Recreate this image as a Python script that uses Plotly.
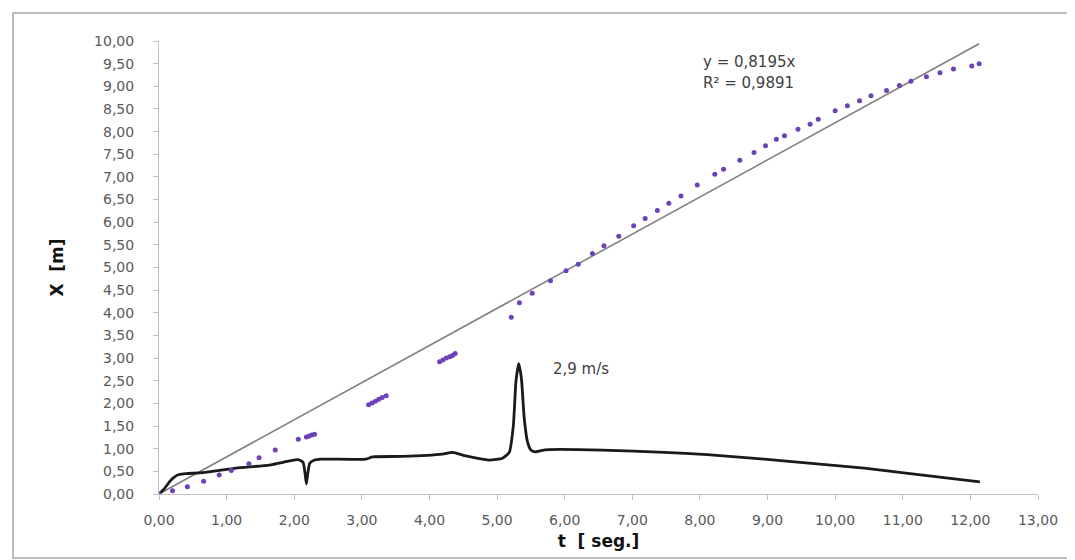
import plotly.graph_objects as go

# ---- data ----
pos_t = [0.00, 0.20, 0.42, 0.66, 0.89, 1.07, 1.33, 1.48, 1.72, 2.06,
         2.18, 2.22, 2.26, 2.30,
         3.10, 3.15, 3.20, 3.25, 3.30, 3.36,
         4.15, 4.20, 4.25, 4.30, 4.34, 4.38,
         5.21, 5.33, 5.52, 5.79, 6.02, 6.20, 6.41, 6.58, 6.80, 7.02,
         7.19, 7.37, 7.54, 7.72, 7.96, 8.22, 8.35, 8.59, 8.80, 8.97,
         9.13, 9.25, 9.45, 9.63, 9.75, 10.00, 10.18, 10.36, 10.53, 10.76,
         10.95, 11.12, 11.35, 11.55, 11.75, 12.02, 12.13]
pos_x = [0.00, 0.07, 0.16, 0.28, 0.42, 0.52, 0.67, 0.80, 0.97, 1.21,
         1.26, 1.28, 1.30, 1.32,
         1.97, 2.01, 2.05, 2.09, 2.13, 2.17,
         2.92, 2.96, 3.00, 3.03, 3.06, 3.10,
         3.90, 4.22, 4.43, 4.71, 4.93, 5.07, 5.31, 5.48, 5.69, 5.92,
         6.08, 6.26, 6.42, 6.58, 6.82, 7.06, 7.17, 7.37, 7.54, 7.69,
         7.83, 7.91, 8.05, 8.16, 8.27, 8.46, 8.57, 8.68, 8.79, 8.91,
         9.02, 9.11, 9.21, 9.30, 9.38, 9.45, 9.50]

vel_t = [0.00, 0.08, 0.16, 0.23, 0.30, 0.40, 0.65, 1.14, 1.63, 1.93,
         2.06, 2.13, 2.16, 2.18, 2.20, 2.23, 2.30, 2.40, 3.06, 3.16,
         3.60, 4.19, 4.34, 4.54, 4.88, 5.08, 5.18, 5.24, 5.28, 5.32,
         5.36, 5.40, 5.45, 5.50, 5.56, 5.65, 5.77, 6.56, 7.47, 8.11,
         8.95, 9.69, 10.43, 11.17, 12.14]
vel_v = [0.00, 0.12, 0.28, 0.38, 0.43, 0.45, 0.47, 0.57, 0.64, 0.73,
         0.76, 0.70, 0.45, 0.22, 0.45, 0.68, 0.75, 0.77, 0.77, 0.82,
         0.83, 0.88, 0.92, 0.84, 0.75, 0.79, 0.92, 1.50, 2.50, 2.88,
         2.55, 1.70, 1.15, 0.97, 0.93, 0.96, 0.98, 0.97, 0.92, 0.87,
         0.77, 0.67, 0.57, 0.44, 0.27]

trend_slope = 0.8195
trend_r2 = 0.9891
trend_t = [0.00, 12.13]
trend_x = [trend_slope * v for v in trend_t]

x_ticks = [float(i) for i in range(0, 14)]
y_ticks = [i * 0.5 for i in range(0, 21)]

fig = go.Figure()

fig.add_trace(go.Scatter(
    x=trend_t, y=trend_x, mode="lines",
    line=dict(color="#808080", width=1.6), hoverinfo="skip"))

fig.add_trace(go.Scatter(
    x=vel_t, y=vel_v, mode="lines",
    line=dict(color="#1a1a1a", width=2.8, shape="spline", smoothing=0.5)))

fig.add_trace(go.Scatter(
    x=pos_t, y=pos_x, mode="markers",
    marker=dict(color="#6b42b8", size=5, symbol="circle",
                line=dict(width=0))))

tick_font = dict(family="DejaVu Sans", size=14, color="#595959")
axis_common = dict(showgrid=False, zeroline=False, showline=True,
                   linecolor="#c0c0c0", linewidth=1, ticks="outside",
                   ticklen=5, tickcolor="#c0c0c0", tickfont=tick_font,
                   tickformat=".2f")

fig.update_layout(
    width=1075, height=560,
    margin=dict(l=151, r=45, t=33, b=74),
    paper_bgcolor="white", plot_bgcolor="white",
    separators=",.",
    showlegend=False,
    xaxis=dict(range=[0, 13], tickvals=x_ticks, ticklabelstandoff=8,
               title=dict(text="<b>t  [ seg.]</b>",
                          font=dict(family="DejaVu Sans", size=17, color="#111"),
                          standoff=8),
               **axis_common),
    yaxis=dict(range=[0, 10], tickvals=y_ticks, ticklabelstandoff=16,
               title=dict(text="<b>X  [m]</b>",
                          font=dict(family="DejaVu Sans", size=17, color="#111"),
                          standoff=26),
               **axis_common),
    annotations=[
        dict(x=8.02, y=9.53, xref="x", yref="y", xanchor="left", yanchor="middle",
             text="y = 0,8195x", showarrow=False,
             font=dict(family="DejaVu Sans", size=15, color="#404040")),
        dict(x=8.02, y=9.08, xref="x", yref="y", xanchor="left", yanchor="middle",
             text="R² = 0,9891", showarrow=False,
             font=dict(family="DejaVu Sans", size=15, color="#404040")),
        dict(x=5.80, y=2.75, xref="x", yref="y", xanchor="left", yanchor="middle",
             text="2,9 m/s", showarrow=False,
             font=dict(family="DejaVu Sans", size=15, color="#404040")),
    ],
    shapes=[
        dict(type="rect", xref="paper", yref="paper",
             x0=-0.1661, x1=1.0444, y0=-0.1411, y1=1.0617,
             line=dict(color="#a6a6a6", width=1.5), layer="below"),
    ],
)

fig.write_html("out.html")
